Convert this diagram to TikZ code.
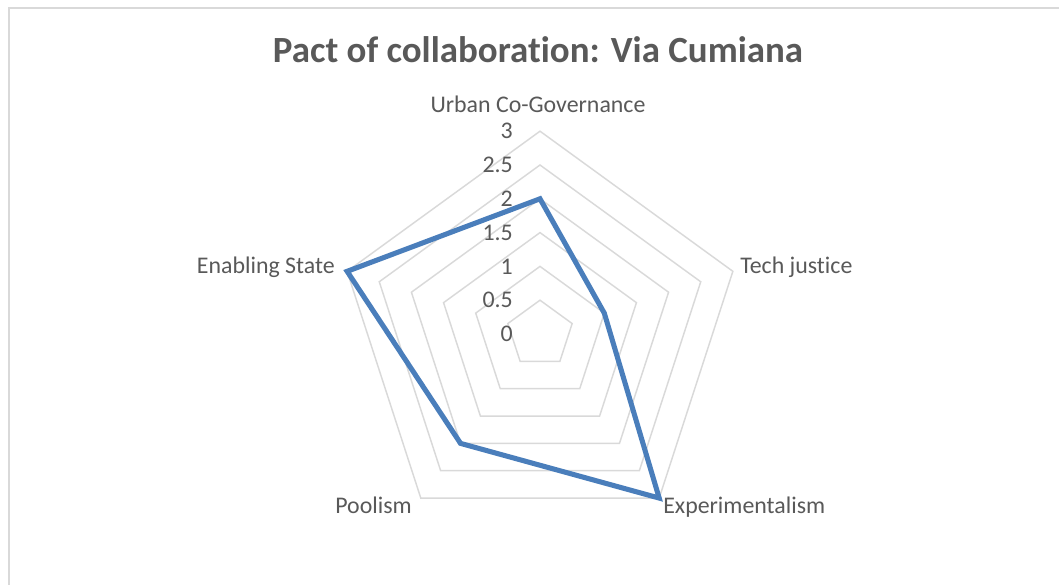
\documentclass[tikz,border=0pt]{standalone}
\usepackage{fontspec}
\setmainfont{Carlito}[Ligatures=NoCommon]
\definecolor{axisgray}{HTML}{595959}
\definecolor{gridgray}{HTML}{D9D9D9}
\definecolor{seriesblue}{HTML}{4A7EBB}
\tikzstyle{frame} = [draw=gridgray, line width=1pt]
\tikzstyle{ring} = [draw=gridgray, line width=1.1pt]
\tikzstyle{series} = [draw=seriesblue, line width=3.8pt, line join=miter]
\tikzstyle{catlabel} = [inner sep=0pt, text=axisgray, font=\fontsize{17.9}{21}\selectfont]
\tikzstyle{ticklabel} = [inner sep=0pt, anchor=east, text=axisgray, font=\fontsize{17.9}{21}\selectfont]
\tikzstyle{charttitle} = [inner sep=0pt, anchor=base, text=axisgray, font=\bfseries\fontsize{27.7}{33}\selectfont]

\begin{document}
\begin{tikzpicture}[x=0.75pt, y=0.75pt]

\useasboundingbox (-540,-251) rectangle (519,334);
\coordinate (frametr) at (519,326);
\coordinate (frametl) at (-531,326);
\coordinate (framebl) at (-531,-251);
\draw [frame] (frametr) -- (frametl) -- (framebl);

\node (title) [charttitle] at (-2,271) {Pact of collaboration: Via Cumiana};

% rings 0.5 .. 3
\draw [ring] (90:33.8) -- (18:33.8) -- (-54:33.8) -- (-126:33.8) -- (162:33.8) -- cycle;
\draw [ring] (90:67.6) -- (18:67.6) -- (-54:67.6) -- (-126:67.6) -- (162:67.6) -- cycle;
\draw [ring] (90:101.4) -- (18:101.4) -- (-54:101.4) -- (-126:101.4) -- (162:101.4) -- cycle;
\draw [ring] (90:135.2) -- (18:135.2) -- (-54:135.2) -- (-126:135.2) -- (162:135.2) -- cycle;
\draw [ring] (90:169) -- (18:169) -- (-54:169) -- (-126:169) -- (162:169) -- cycle;
\draw [ring] (90:202.8) -- (18:202.8) -- (-54:202.8) -- (-126:202.8) -- (162:202.8) -- cycle;

\node (tick0) [ticklabel] at (-27,0) {0};
\node (tick05) [ticklabel] at (-27,33.8) {0.5};
\node (tick1) [ticklabel] at (-27,67.6) {1};
\node (tick15) [ticklabel] at (-27,101.4) {1.5};
\node (tick2) [ticklabel] at (-27,135.2) {2};
\node (tick25) [ticklabel] at (-27,169) {2.5};
\node (tick3) [ticklabel] at (-27,202.8) {3};

\node (urban) [catlabel, anchor=base] at (-2,221) {Urban Co-Governance};
\node (tech) [catlabel, anchor=base west] at (200,60) {Tech justice};
\node (exper) [catlabel, anchor=base west] at (123,-179) {Experimentalism};
\node (pool) [catlabel, anchor=base east] at (-128,-179) {Poolism};
\node (enabling) [catlabel, anchor=base east] at (-205,60) {Enabling State};

% data: 2, 1, 3, 2, 3
\coordinate (urbanpt) at (90:135.2);
\coordinate (techpt) at (18:67.6);
\coordinate (experpt) at (-54:202.8);
\coordinate (poolpt) at (-126:135.2);
\coordinate (enablingpt) at (162:202.8);
\draw [series] (urbanpt) -- (techpt) -- (experpt) -- (poolpt) -- (enablingpt) -- cycle;

\end{tikzpicture}
\end{document}
